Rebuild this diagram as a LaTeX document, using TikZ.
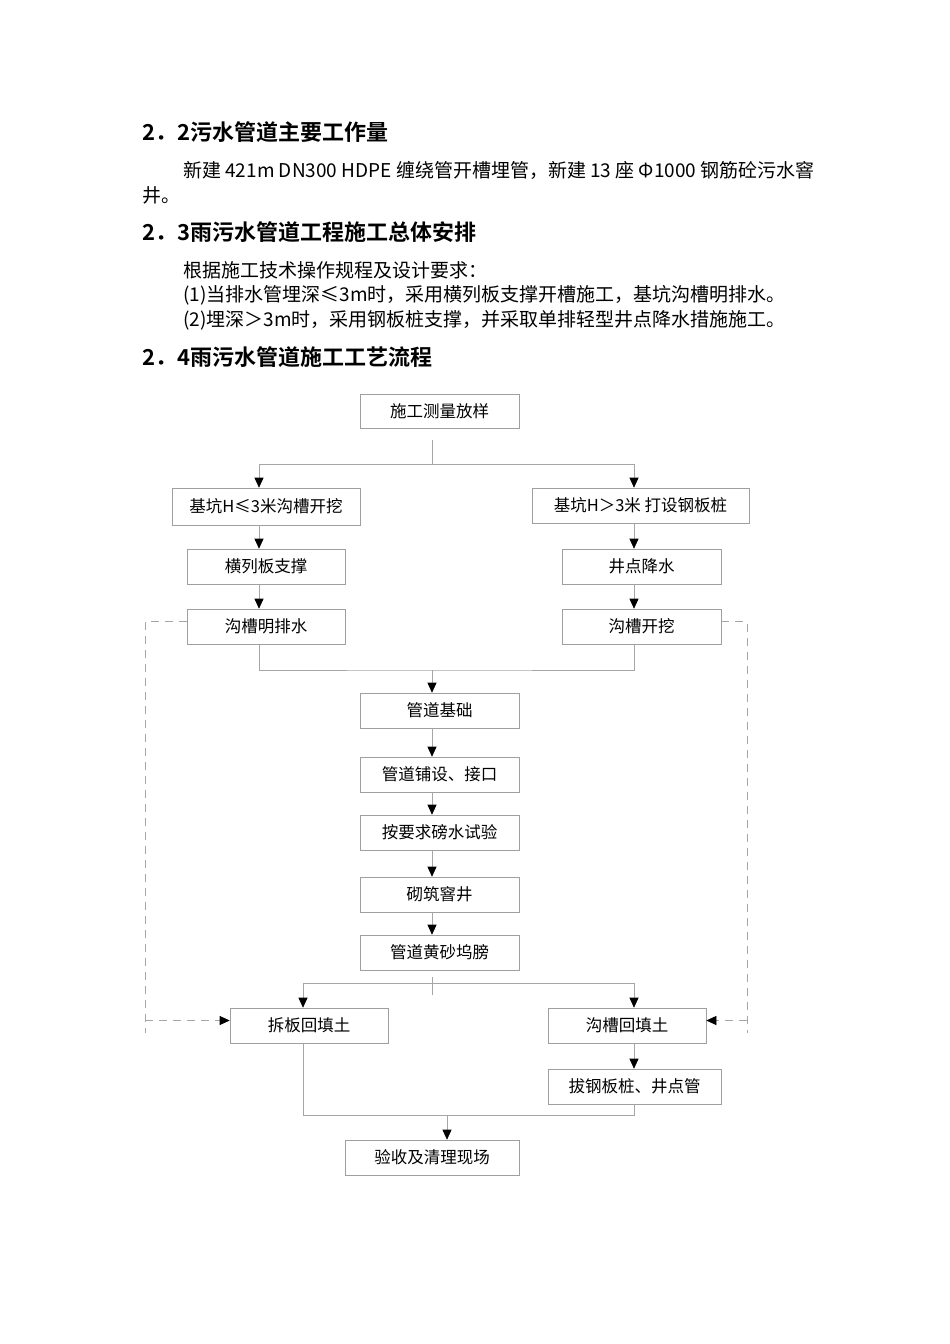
\documentclass[tikz,border=0pt]{standalone}
\usepackage{fontspec}
\setmainfont{Noto Sans CJK SC}[BoldFont={Noto Sans CJK SC Bold}]
\usetikzlibrary{arrows.meta}

\begin{document}
\begin{tikzpicture}[x=1pt,y=-1pt,
    head/.style={anchor=west,inner sep=0pt,font=\fontsize{22}{25}\bfseries\selectfont},
    para/.style={anchor=west,inner sep=0pt,font=\fontsize{19}{22}\selectfont},
    box/.style={draw=gray!75,line width=0.6pt,inner sep=0pt,font=\fontsize{16.5}{18}\selectfont},
    link/.style={draw=gray!70,line width=0.6pt},
    flow/.style={link,-{Triangle[length=10pt,width=9pt,color=black]}},
    backflow/.style={link,dash pattern=on 8pt off 6pt}]
    \fill[white] (0,0) rectangle (950,1344);
    % text above the chart
    \node[head] (h22) at (142,132) {2．2污水管道主要工作量};
    \node[para] (p1) at (183,170) {新建 421m DN300 HDPE 缠绕管开槽埋管，新建 13 座 Φ1000 钢筋砼污水窨};
    \node[para] (p2) at (142,195) {井。};
    \node[head] (h23) at (142,232) {2．3雨污水管道工程施工总体安排};
    \node[para] (p3) at (183,270) {根据施工技术操作规程及设计要求：};
    \node[para] (p4) at (183,295) {(1)当排水管埋深≤3m时，采用横列板支撑开槽施工，基坑沟槽明排水。};
    \node[para] (p5) at (183,320) {(2)埋深＞3m时，采用钢板桩支撑，并采取单排轻型井点降水措施施工。};
    \node[head] (h24) at (142,357) {2．4雨污水管道施工工艺流程};
    % columns of the arrows
    \coordinate (colL) at (259,0);
    \coordinate (colR) at (634,0);
    \coordinate (colC) at (432,0);
    \coordinate (colBL) at (303,0);
    \coordinate (railL) at (145,0);
    \coordinate (railR) at (747,0);
    % boxes
    \node[box,minimum width=159,minimum height=34] (survey) at (439.5,411) {施工测量放样};
    \node[box,minimum width=188,minimum height=37] (leftdig) at (266,506.5) {基坑H≤3米沟槽开挖};
    \node[box,minimum width=217,minimum height=35] (rightpile) at (640.5,505.5) {基坑H＞3米 打设钢板桩};
    \node[box,minimum width=158,minimum height=35] (plank) at (266,566.5) {横列板支撑};
    \node[box,minimum width=159,minimum height=35] (wellpt) at (641.5,566.5) {井点降水};
    \node[box,minimum width=158,minimum height=35] (drain) at (266,626.5) {沟槽明排水};
    \node[box,minimum width=159,minimum height=35] (trench) at (641.5,626.5) {沟槽开挖};
    \node[box,minimum width=159,minimum height=35] (base) at (439.5,710.5) {管道基础};
    \node[box,minimum width=159,minimum height=35] (laying) at (439.5,774.5) {管道铺设、接口};
    \node[box,minimum width=159,minimum height=35] (test) at (439.5,832.5) {按要求磅水试验};
    \node[box,minimum width=159,minimum height=35] (manhole) at (439.5,894.5) {砌筑窨井};
    \node[box,minimum width=159,minimum height=35] (sand) at (439.5,952.5) {管道黄砂坞膀};
    \node[box,minimum width=158,minimum height=35] (plankfill) at (309,1025.5) {拆板回填土};
    \node[box,minimum width=158,minimum height=35] (trenchfill) at (627,1025.5) {沟槽回填土};
    \node[box,minimum width=173,minimum height=35] (pullpile) at (634.5,1086.5) {拔钢板桩、井点管};
    \node[box,minimum width=174,minimum height=35] (accept) at (432,1157.5) {验收及清理现场};
    % split after survey
    \coordinate (topsplit) at (432,464);
    \draw[link] ([yshift=-12pt]survey.south -| topsplit) -- (topsplit);
    \draw[flow] (topsplit) -| (leftdig.north -| colL);
    \draw[flow] (topsplit) -| (rightpile.north -| colR);
    \draw[flow] (leftdig.south -| colL) -- (plank.north -| colL);
    \draw[flow] (plank.south -| colL) -- (drain.north -| colL);
    \draw[flow] (rightpile.south -| colR) -- (wellpt.north -| colR);
    \draw[flow] (wellpt.south -| colR) -- (trench.north -| colR);
    % join before the pipe works
    \coordinate (midjoin) at (432,670);
    \draw[link] (drain.south -| colL) |- (midjoin) -| (trench.south -| colR);
    \draw[flow] (midjoin) -- (base.north -| colC);
    \draw[flow] (base.south -| colC) -- (laying.north -| colC);
    \draw[flow] (laying.south -| colC) -- (test.north -| colC);
    \draw[flow] (test.south -| colC) -- (manhole.north -| colC);
    \draw[flow] (manhole.south -| colC) -- (sand.north -| colC);
    % split to backfill
    \coordinate (botsplit) at (432,983);
    \draw[link] ([yshift=-7pt]sand.south -| botsplit) -- ([yshift=-12pt]botsplit);
    \draw[flow] (botsplit) -| (plankfill.north -| colBL);
    \draw[flow] (botsplit) -| (trenchfill.north -| colR);
    \draw[flow] (trenchfill.south -| colR) -- (pullpile.north -| colR);
    % dashed side links
    \draw[backflow] ([yshift=5pt]drain.west) -| ([yshift=-7pt]railL |- plankfill.west);
    \draw[backflow,-{Triangle[length=10pt,width=9pt,color=black]}] ([yshift=5pt]railL |- plankfill.west) -- ([yshift=5pt]plankfill.west);
    \draw[backflow] ([yshift=5pt]trench.east) -| ([yshift=-7pt]railR |- trenchfill.east);
    \draw[backflow,-{Triangle[length=10pt,width=9pt,color=black]}] ([yshift=5pt]railR |- trenchfill.east) -- ([yshift=5pt]trenchfill.east);
    % final join
    \coordinate (endjoin) at (447,1115);
    \draw[link] (plankfill.south -| colBL) |- (endjoin) -| (pullpile.south -| colR);
    \draw[flow] (endjoin) -- (accept.north -| endjoin);
\end{tikzpicture}
\end{document}
